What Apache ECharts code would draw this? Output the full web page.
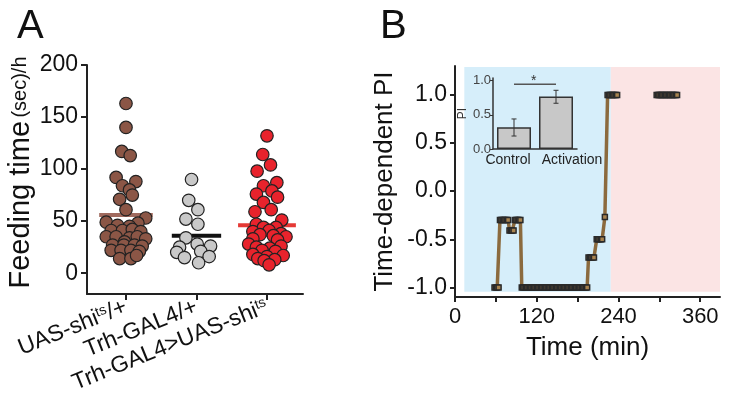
<!DOCTYPE html>
<html><head><meta charset="utf-8">
<script src="https://cdn.jsdelivr.net/npm/echarts@6/dist/echarts.min.js"></script>
<style>html,body{margin:0;padding:0;background:#fff}#c{width:739px;height:404px}</style>
</head><body><div id="c"></div>
<script>
// ---------- Panel A data ----------
const groupLabels = ['UAS-shi{s|ts}/+', 'Trh-GAL4/+', 'Trh-GAL4>UAS-shi{s|ts}'];
const feedTicks = [0, 50, 100, 150, 200];
const groupMeans = [56, 36, 46];

const brownValues  = [163, 140, 117, 113, 92, 88, 84, 80, 75, 71, 61,
  53, 49, 48, 46, 45, 41, 41, 42, 40, 35, 35, 34, 35, 33, 30, 27, 27, 27, 26, 22, 22, 22, 21, 14, 14, 17];
const brownOffsets = [0.0, 0.0, -0.06, 0.06, -0.14, 0.14, -0.05, 0.05, 0.09, -0.09, 0.0,
  0.28, -0.28, 0.17, -0.12, 0.05, -0.21, -0.05, 0.09, 0.21, -0.28, -0.14, 0.05, 0.16, 0.28, -0.02, -0.19, -0.03, 0.12, 0.23, -0.21, -0.07, 0.07, 0.19, -0.09, 0.07, 0.15];

const grayValues  = [90, 70, 61, 52, 47, 34, 28, 26, 25, 20, 21, 15, 16, 10];
const grayOffsets = [-0.07, -0.11, 0.02, -0.15, 0.02, -0.15, 0.01, 0.2, -0.24, -0.28, 0.06, -0.17, 0.18, 0.03];

const redValues  = [132, 114, 104, 98, 87, 84, 79, 76, 73, 68, 61, 59,
  51, 47, 44, 44, 41, 40, 38, 37, 36, 35, 33, 32, 28, 26, 25, 24, 22, 21, 18, 17, 16, 14, 13, 12, 8];
const redOffsets = [0.0, -0.06, 0.05, -0.14, 0.14, -0.05, 0.07, -0.15, 0.15, -0.05, 0.06, -0.17,
  0.21, -0.15, -0.05, 0.13, 0.03, -0.2, 0.2, -0.1, 0.09, 0.27, -0.2, 0.15, -0.26, 0.2, -0.15, 0.04, -0.07, 0.12, -0.2, 0.23, 0.0, -0.13, 0.11, -0.04, 0.03];

// ---------- Panel B data ----------
const timeMin = [58, 60, 62, 64,
  66, 68, 70, 72, 74, 76, 78,
  80, 82, 84, 86,
  88, 90, 92, 94, 96,
  98, 100, 102, 104, 106, 108, 110, 112, 114, 116, 118, 120, 122, 124, 126, 128, 130, 132, 134, 136,
  138, 140, 142, 144, 146, 148, 150, 152, 154, 156, 158, 160, 162, 164, 166, 168, 170, 172, 174, 176,
  178, 180, 182, 184, 186, 188, 190, 192, 194,
  196, 198, 200, 202, 204,
  208, 210, 212, 214, 216,
  220,
  224, 226, 228, 230, 232, 234, 236, 238,
  265,
  296, 298, 300, 302, 304, 306, 308, 310, 312, 314, 316, 318, 320, 322, 324, 326];
const piValues = [-1, -1, -1, -1,
  -0.3, -0.3, -0.3, -0.3, -0.3, -0.3, -0.3,
  -0.41, -0.41, -0.41, -0.41,
  -0.3, -0.3, -0.3, -0.3, -0.3,
  -1, -1, -1, -1, -1, -1, -1, -1, -1, -1, -1, -1, -1, -1, -1, -1, -1, -1, -1, -1,
  -1, -1, -1, -1, -1, -1, -1, -1, -1, -1, -1, -1, -1, -1, -1, -1, -1, -1, -1, -1,
  -1, -1, -1, -1, -1, -1, -1, -1, -1,
  -0.69, -0.69, -0.69, -0.69, -0.69,
  -0.5, -0.5, -0.5, -0.5, -0.5,
  -0.27,
  1, 1, 1, 1, 1, 1, 1, 1,
  null,
  1, 1, 1, 1, 1, 1, 1, 1, 1, 1, 1, 1, 1, 1, 1, 1];
const piTicks = [-1, -0.5, 0, 0.5, 1];
const timeTicks = [0, 60, 120, 180, 240, 300, 360];
const timeLabels = [0, 120, 240, 360];
const controlPhase = [13.7, 228.7];
const activationPhase = [228.7, 389];
const phaseY = [-1.045, 1.29];

// ---------- Inset data ----------
const insetCats = ['Control', 'Activation'];
const insetPI = [0.32, 0.77];
const insetErrLow = [0.19, 0.67];
const insetErrHigh = [0.44, 0.86];
const insetTicks = [0, 0.5, 1];
const sigLevel = 0.95;

const FONT = '"Liberation Sans", Arial, Helvetica, sans-serif';
const chart = echarts.init(document.getElementById('c'));

const halfW = [0.38, 0.35, 0.41];
const meanColors = ['#a06a5e', '#111111', '#e53935'];
const dotColors = ['#8b5646', '#c9c9c9', '#e8232c'];
const groups = [[brownValues, brownOffsets], [grayValues, grayOffsets], [redValues, redOffsets]];
const insetLabelPad = [[0, 12, 0, 0], [0, 0, 0, 32]];

const series = [];
groupMeans.forEach((m, i) => {
  series.push({type: 'line', xAxisIndex: 0, yAxisIndex: 0, silent: true, symbol: 'none', z: 1,
    data: [[i + 1 - halfW[i], m], [i + 1 + halfW[i], m]],
    lineStyle: {color: meanColors[i], width: 4}});
});
groups.forEach((g, i) => {
  series.push({type: 'scatter', xAxisIndex: 0, yAxisIndex: 0, z: 3, symbolSize: 12.5,
    data: g[0].map((v, k) => [i + 1 + g[1][k], v]),
    itemStyle: {color: dotColors[i], borderColor: '#222', borderWidth: 1.2, opacity: 1}});
});
series.push({type: 'line', xAxisIndex: 1, yAxisIndex: 1, z: 3, showAllSymbol: true,
  symbol: 'rect', symbolSize: 5, connectNulls: false,
  data: timeMin.map((t, k) => [t, piValues[k] === null ? '-' : piValues[k]]),
  lineStyle: {color: '#8b6a3e', width: 3.5},
  itemStyle: {color: '#a8834f', borderColor: '#2a2a2a', borderWidth: 1.5},
  markArea: {silent: true, data: [
    [{xAxis: controlPhase[0], yAxis: phaseY[0], itemStyle: {color: '#d6eefa'}}, {xAxis: controlPhase[1], yAxis: phaseY[1]}],
    [{xAxis: activationPhase[0], yAxis: phaseY[0], itemStyle: {color: '#fbe4e4'}}, {xAxis: activationPhase[1], yAxis: phaseY[1]}]
  ]}
});
series.push({type: 'bar', xAxisIndex: 2, yAxisIndex: 2, z: 4, barWidth: 34, data: insetPI,
  itemStyle: {color: '#c8c8c8', borderColor: '#333', borderWidth: 1.5}});
series.push({type: 'custom', xAxisIndex: 2, yAxisIndex: 2, z: 5,
  data: insetPI.map((v, k) => [k, insetErrLow[k], insetErrHigh[k]]),
  encode: {x: 0, y: [1, 2]},
  renderItem: (params, api) => {
    const lo = api.coord([api.value(0), api.value(1)]);
    const hi = api.coord([api.value(0), api.value(2)]);
    const w = 2.5, st = {stroke: '#333', lineWidth: 1};
    return {type: 'group', children: [
      {type: 'line', shape: {x1: lo[0], y1: lo[1], x2: hi[0], y2: hi[1]}, style: st},
      {type: 'line', shape: {x1: lo[0] - w, y1: lo[1], x2: lo[0] + w, y2: lo[1]}, style: st},
      {type: 'line', shape: {x1: hi[0] - w, y1: hi[1], x2: hi[0] + w, y2: hi[1]}, style: st}
    ]};
  }});
series.push({type: 'line', xAxisIndex: 2, yAxisIndex: 2, z: 5, symbol: 'none', silent: true,
  data: [sigLevel, sigLevel], lineStyle: {color: '#555', width: 1.5}});

const axisCol = '#222';
chart.setOption({
  animation: false,
  textStyle: {fontFamily: FONT},
  title: [
    {text: 'A', left: 12, top: 2, textStyle: {fontSize: 40, fontWeight: 'normal', color: '#111', fontFamily: FONT}},
    {text: 'B', left: 375, top: 2, textStyle: {fontSize: 40, fontWeight: 'normal', color: '#111', fontFamily: FONT}}
  ],
  grid: [
    {left: 87, top: 65, width: 216, height: 229, outerBoundsMode: 'none'},
    {left: 455, top: 66, width: 265, height: 231, outerBoundsMode: 'none'},
    {left: 493, top: 78, width: 84, height: 71, outerBoundsMode: 'none'}
  ],
  xAxis: [
    {gridIndex: 0, type: 'value', min: 0.447, max: 3.511, splitLine: {show: false},
      axisLine: {onZero: false, lineStyle: {color: axisCol, width: 2}},
      axisTick: {customValues: [1, 2, 3], length: 6, lineStyle: {color: axisCol, width: 2}},
      axisLabel: {customValues: [1, 2, 3], rotate: 22, fontSize: 23, color: '#111', margin: 12,
        formatter: v => groupLabels[Math.round(v) - 1],
        rich: {s: {fontSize: 14, verticalAlign: 'top', color: '#111'}}}},
    {gridIndex: 1, type: 'value', min: 0, max: 389, splitLine: {show: false},
      axisLine: {onZero: false, lineStyle: {color: axisCol, width: 2}},
      axisTick: {customValues: timeTicks, length: 5, lineStyle: {color: axisCol, width: 2}},
      axisLabel: {customValues: timeLabels, fontSize: 22, color: '#111', margin: 9},
      name: 'Time (min)', nameLocation: 'middle', nameGap: 38,
      nameTextStyle: {fontSize: 26, color: '#111'}},
    {gridIndex: 2, type: 'category', z: 6,
      data: insetCats.map((c, k) => ({value: c, textStyle: {padding: insetLabelPad[k]}})),
      axisLine: {onZero: false, lineStyle: {color: '#333', width: 1.5}},
      axisTick: {show: false},
      axisLabel: {fontSize: 14, color: '#222', margin: 4, interval: 0}}
  ],
  yAxis: [
    {gridIndex: 0, type: 'value', min: -20, max: 200, splitLine: {show: false},
      axisLine: {show: true, onZero: false, lineStyle: {color: axisCol, width: 2}},
      axisTick: {show: true, customValues: feedTicks, length: 6, lineStyle: {color: axisCol, width: 2}},
      axisLabel: {customValues: feedTicks, fontSize: 23, color: '#111', margin: 9},
      name: '{a|Feeding time} {b|(sec)/h}', nameLocation: 'middle', nameRotate: 90, nameGap: 52,
      nameTextStyle: {color: '#111', padding: [0, 0, 0, 14],
        rich: {a: {fontSize: 29, color: '#111'}, b: {fontSize: 20, color: '#111'}}}},
    {gridIndex: 1, type: 'value', min: -1.1, max: 1.3, splitLine: {show: false},
      axisLine: {show: true, onZero: false, lineStyle: {color: axisCol, width: 2}},
      axisTick: {show: true, customValues: piTicks, length: 5, lineStyle: {color: axisCol, width: 2}},
      axisLabel: {customValues: piTicks, fontSize: 23, color: '#111', margin: 8, formatter: v => v.toFixed(1)},
      name: 'Time-dependent PI', nameLocation: 'middle', nameRotate: 90, nameGap: 57,
      nameTextStyle: {fontSize: 26, color: '#111'}},
    {gridIndex: 2, type: 'value', min: 0, max: 1.04, splitLine: {show: false}, z: 6,
      axisLine: {show: true, onZero: false, lineStyle: {color: '#333', width: 1.5}},
      axisTick: {show: true, customValues: insetTicks, length: 3, lineStyle: {color: '#333'}},
      axisLabel: {customValues: insetTicks, fontSize: 13, color: '#444', margin: 2, formatter: v => v.toFixed(1)},
      name: 'PI', nameLocation: 'middle', nameRotate: 90, nameGap: 24,
      nameTextStyle: {fontSize: 12, color: '#333'}}
  ],
  graphic: [
    {type: 'text', left: 533, top: 174, style: {text: 'Control', font: '18px ' + FONT, fill: '#222'}},
    {type: 'text', left: 533, top: 199, style: {text: 'PI= -0.8', font: '18px ' + FONT, fill: '#222'}},
    {type: 'text', left: 641, top: 109, style: {text: 'PI= 1', font: '18px ' + FONT, fill: '#222'}},
    {type: 'text', left: 641, top: 134, style: {text: 'Activation', font: '18px ' + FONT, fill: '#222'}},
    {type: 'text', left: 531, top: 74, z: 10, style: {text: '*', font: '14px ' + FONT, fill: '#333'}}
  ],
  series: series
});
</script>
</body></html>
